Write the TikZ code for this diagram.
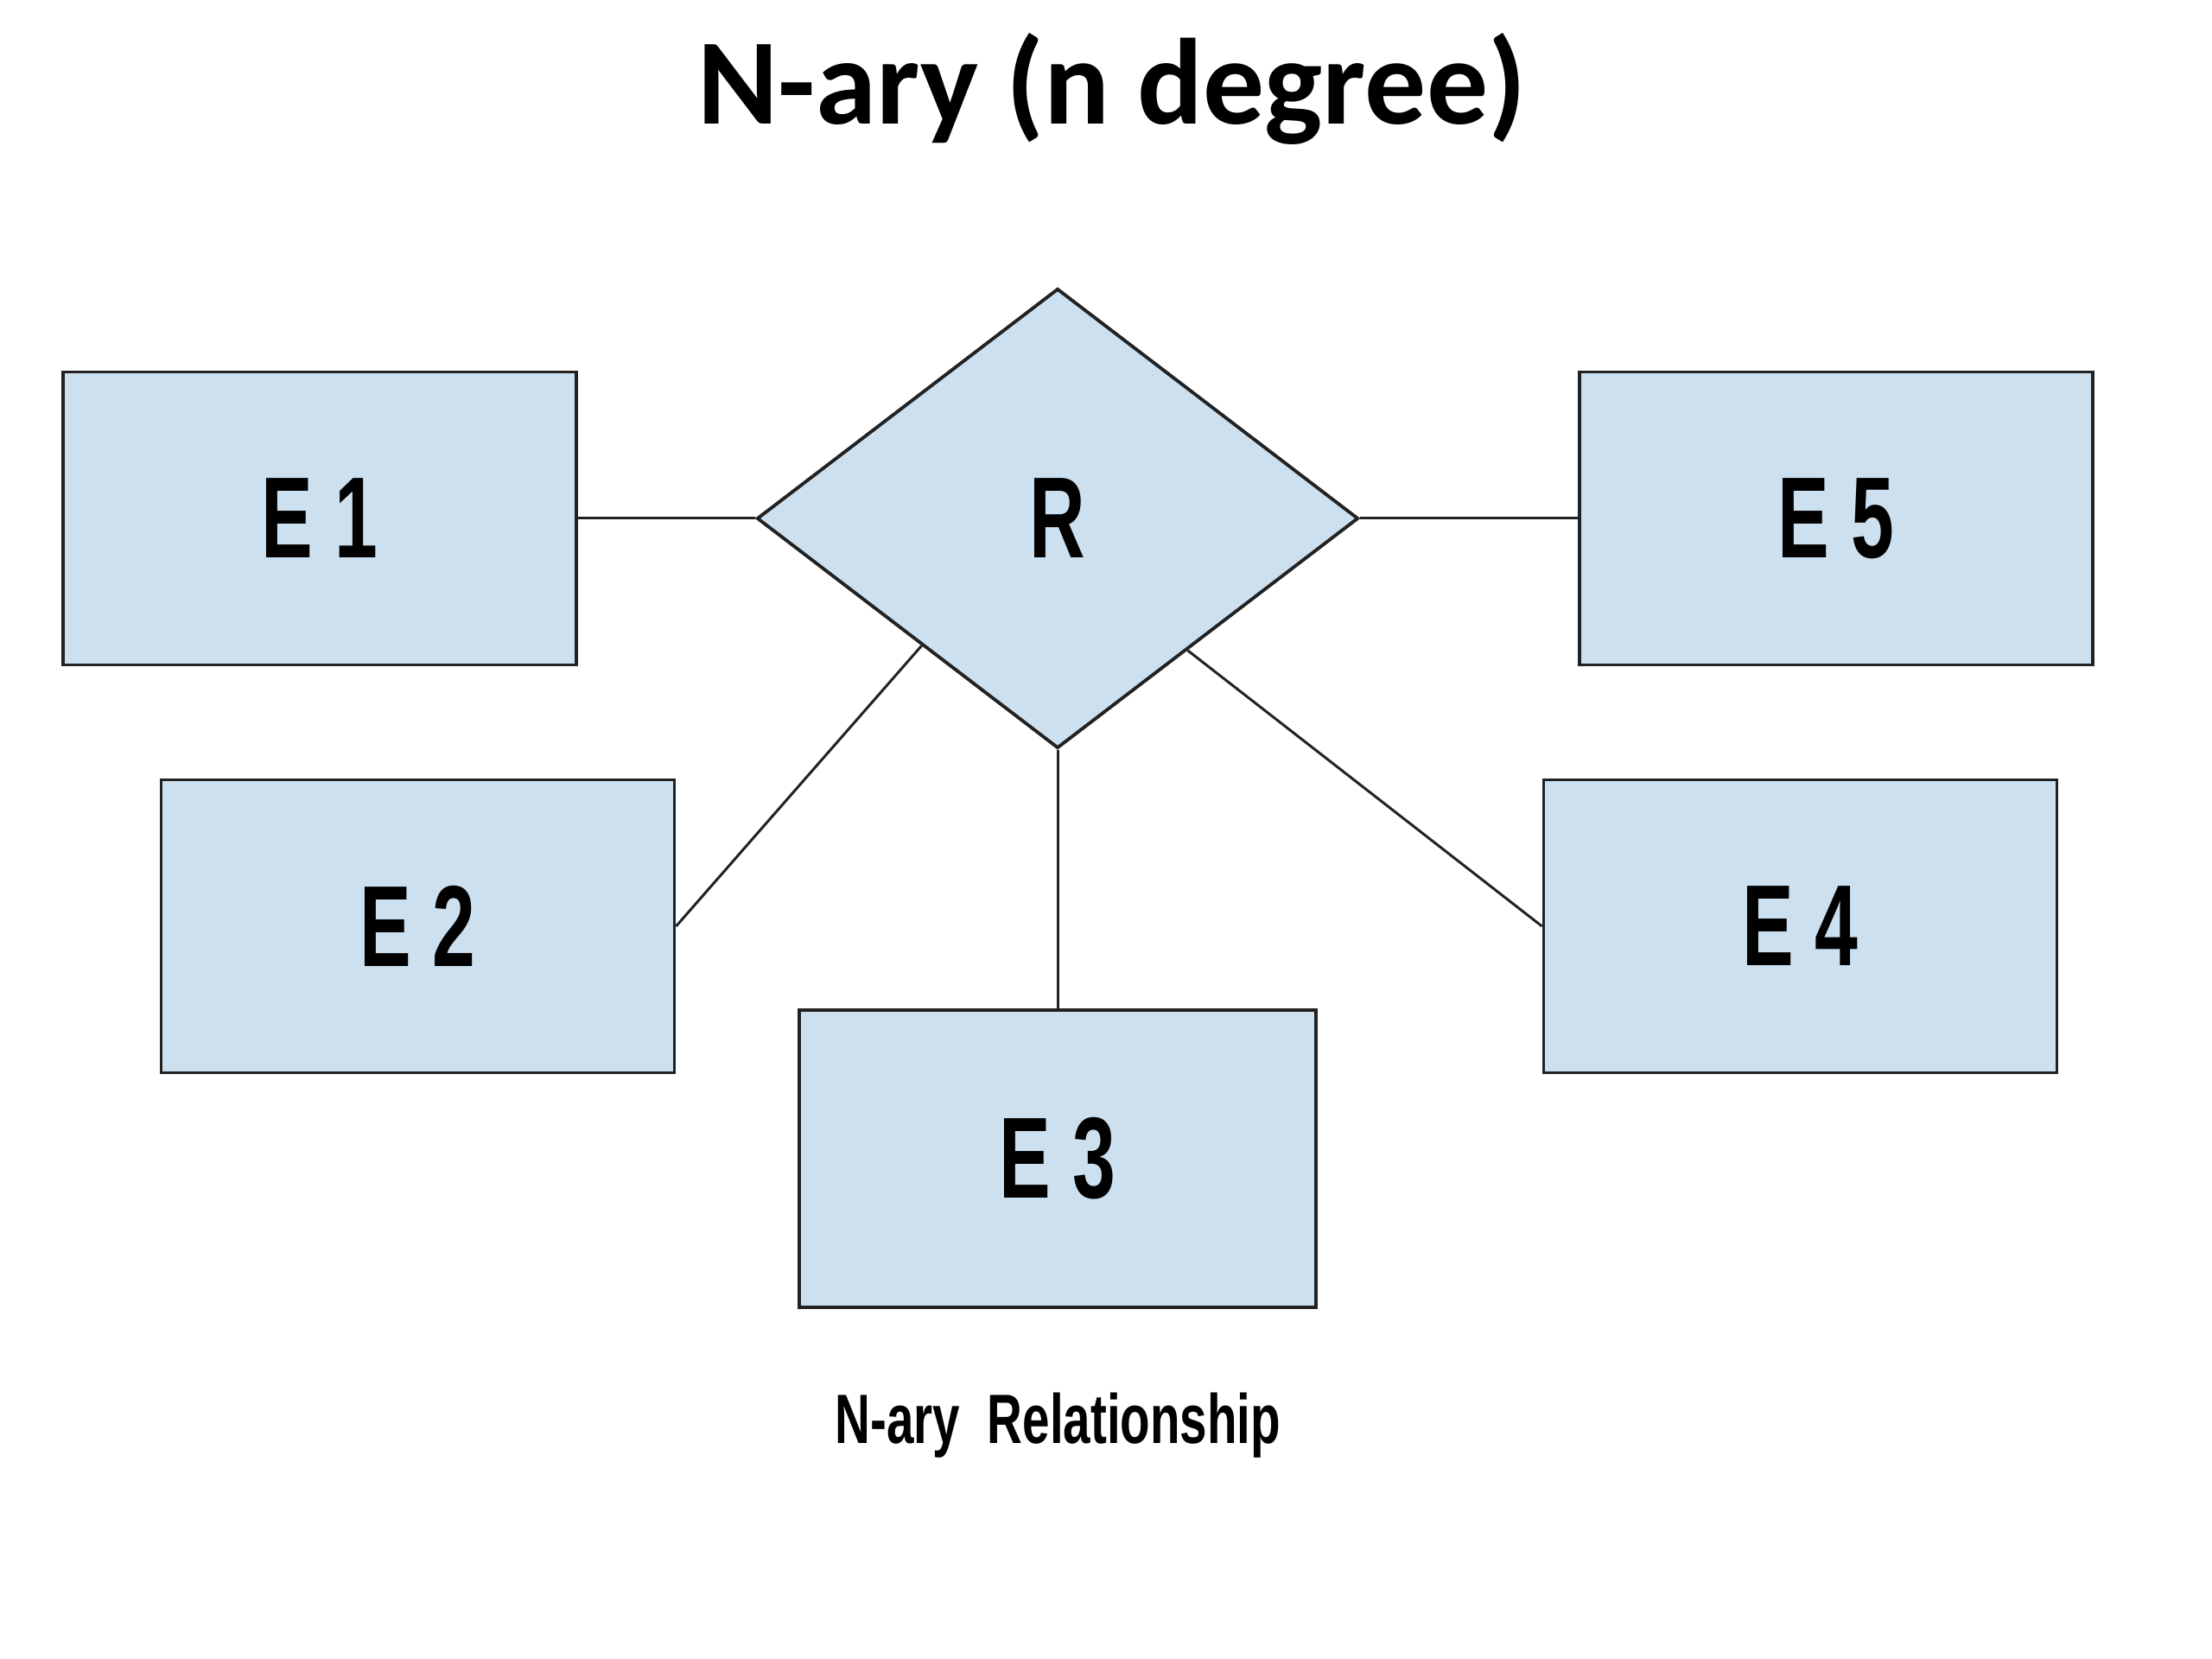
\documentclass[tikz,border=0pt]{standalone}
\usepackage{fontspec}
\usetikzlibrary{shapes.geometric,calc}
\newfontfamily\titlefont{Carlito}[BoldFont={Carlito Bold}]
\newfontfamily\labelfont{Liberation Sans Bold}[FakeStretch=0.67]
\newfontfamily\capfont{Liberation Sans Bold}[FakeStretch=0.70]
\definecolor{boxblue}{RGB}{204,224,240}
\definecolor{edgegray}{HTML}{222222}
\tikzset{
  entity/.style={draw=edgegray, line width=1.1pt, fill=boxblue, minimum width=5.94cm,
    minimum height=3.39cm, inner sep=0pt, font=\labelfont\fontsize{38}{40}\selectfont},
  relation/.style={diamond, draw=edgegray, line width=1.1pt, fill=boxblue, minimum width=6.96cm,
    minimum height=5.32cm, inner sep=0pt, font=\labelfont\fontsize{38}{40}\selectfont},
  link/.style={draw=edgegray, line width=0.85pt}
}
\begin{document}
\begin{tikzpicture}
\useasboundingbox (0,0) rectangle (25.6,19.2);
\node[anchor=base] (title) at (12.87,17.76) {\titlefont\bfseries\fontsize{40.3}{48}\selectfont N-ary (n degree)};
\node[relation] (r) at (12.24,13.2) {R};
\node[entity] (e1) at (3.70,13.2) {E 1};
\node[entity] (e5) at (21.25,13.2) {E 5};
\node[entity] (e2) at (4.835,8.48) {E 2};
\node[entity] (e4) at (20.835,8.48) {E 4};
\node[entity, minimum width=5.98cm, minimum height=3.44cm] (e3) at (12.24,5.79) {E 3};
\draw[link] (e1.east) -- (r.west);
\draw[link] (e5.west) -- (r.east);
\draw[link] (e3.north) -- (r.south);
\draw[link] (e2.east) -- ($(r.west)!0.55!(r.south)$);
\draw[link] (e4.west) -- ($(r.east)!0.57!(r.south)$);
\node[anchor=base] (caption) at (12.245,2.49) {\capfont\fontsize{23}{26}\selectfont N-ary\ \ Relationship};
\end{tikzpicture}
\end{document}
